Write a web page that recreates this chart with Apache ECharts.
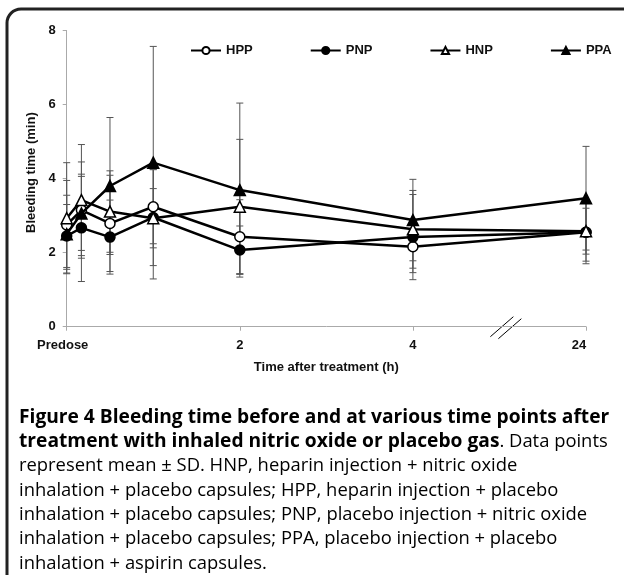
<!DOCTYPE html>
<html><head><meta charset="utf-8">
<script src="https://cdn.jsdelivr.net/npm/echarts@6/dist/echarts.min.js"></script>
<style>html,body{margin:0;padding:0;background:#fff}#c{width:624px;height:575px}</style>
</head><body><div id="c"></div>
<script>
// time points (h); 24 h is drawn after the axis break
const times = [0, 0.17, 0.5, 1, 2, 4, 24];
const xTickLabels = {0: 'Predose', 2: '2', 4: '4', 6: '24'};
const seriesNames = ['HPP', 'PNP', 'HNP', 'PPA'];
const hppMean = [2.75, 3.15, 2.79, 3.24, 2.43, 2.16, 2.55];
const hppSD   = [1.2, 1.3, 1.3, 1.0, 1.0, 0.7, 0.78];
const pnpMean = [2.45, 2.67, 2.42, 2.95, 2.07, 2.42, 2.55];
const pnpSD   = [0.85, 1.45, 1.0, 1.3, 0.65, 1.15, 0.85];
const hnpMean = [2.93, 3.42, 3.11, 2.93, 3.24, 2.63, 2.58];
const hnpSD   = [1.5, 1.5, 1.1, 0.8, 1.82, 1.05, 0.62];
const ppaMean = [2.5, 3.06, 3.8, 4.43, 3.69, 2.88, 3.47];
const ppaSD   = [1.05, 1.0, 1.85, 3.14, 2.35, 1.1, 1.4];

const axisPos = t => (t > 4 ? 6 : t);
const means = [hppMean, pnpMean, hnpMean, ppaMean];
const sds = [hppSD, pnpSD, hnpSD, ppaSD];
const symbols = ['circle', 'circle', 'triangle', 'triangle'];
const fills = ['#fff', '#000', '#fff', '#000'];
const sizes = [10, 10, 11, 11];
const FONT = 'Liberation Sans, Arial';

const chart = echarts.init(document.getElementById('c'), null, {renderer: 'canvas'});
const series = [];
seriesNames.forEach((n, i) => {
  series.push({
    type: 'custom', name: n + '_err', silent: true, z: 1,
    data: times.map((t, j) => [axisPos(t), means[i][j] - sds[i][j], means[i][j] + sds[i][j]]),
    renderItem: (params, api) => {
      const lo = api.coord([api.value(0), api.value(1)]);
      const hi = api.coord([api.value(0), api.value(2)]);
      const w = 3.5;
      const st = {stroke: '#555', lineWidth: 1};
      return {type: 'group', children: [
        {type: 'line', shape: {x1: lo[0], y1: lo[1], x2: hi[0], y2: hi[1]}, style: st},
        {type: 'line', shape: {x1: lo[0]-w, y1: lo[1], x2: lo[0]+w, y2: lo[1]}, style: st},
        {type: 'line', shape: {x1: hi[0]-w, y1: hi[1], x2: hi[0]+w, y2: hi[1]}, style: st}
      ]};
    }
  });
});
seriesNames.forEach((n, i) => {
  series.push({
    type: 'line', name: n, z: 3 + i,
    data: times.map((t, j) => [axisPos(t), means[i][j]]),
    symbol: symbols[i], symbolSize: sizes[i], showAllSymbol: true,
    lineStyle: {color: '#000', width: 2.5},
    itemStyle: {color: fills[i], borderColor: '#000', borderWidth: 1.5},
    emphasis: {disabled: true}
  });
});

const caption =
  '{b|Figure 4 Bleeding time before and at various time points after}\n' +
  '{b|treatment with inhaled nitric oxide or placebo gas}{r|. Data points}\n' +
  '{r|represent mean \u00b1 SD. HNP, heparin injection + nitric oxide}\n' +
  '{r|inhalation + placebo capsules; HPP, heparin injection + placebo}\n' +
  '{r|inhalation + placebo capsules; PNP, placebo injection + nitric oxide}\n' +
  '{r|inhalation + placebo capsules; PPA, placebo injection + placebo}\n' +
  '{r|inhalation + aspirin capsules.}';

const txt = {fontFamily: FONT, fontWeight: 'bold', fontSize: 13, color: '#111'};

chart.setOption({
  animation: false,
  grid: {left: 66.7, right: 38, top: 30.5, bottom: 248.3, containLabel: false},
  legend: {
    data: seriesNames, left: 185, top: 39, itemWidth: 30, itemHeight: 9, itemGap: 57,
    textStyle: txt, selectedMode: false
  },
  xAxis: {
    type: 'value', min: 0, max: 6, interval: 2,
    name: 'Time after treatment (h)', nameLocation: 'middle', nameGap: 34,
    nameTextStyle: txt,
    axisLine: {lineStyle: {color: '#aaa', width: 1}},
    axisTick: {show: true, length: 4, lineStyle: {color: '#aaa'}},
    splitLine: {show: false},
    axisLabel: Object.assign({margin: 12}, txt, {
      formatter: v => {
        if (v === 0) return '{p|' + xTickLabels[v] + '}';
        if (v === 6) return '{q|' + xTickLabels[v] + '}';
        return xTickLabels[v] || '';
      },
      rich: {
        p: Object.assign({padding: [0, 8, 0, 0]}, txt),
        q: Object.assign({padding: [0, 14, 0, 0]}, txt)
      }
    })
  },
  yAxis: {
    type: 'value', min: 0, max: 8, interval: 2,
    name: 'Bleeding time (min)', nameLocation: 'middle', nameGap: 27,
    nameTextStyle: Object.assign({padding: [0, 0, 0, 12]}, txt),
    axisLine: {show: true, lineStyle: {color: '#aaa', width: 1}},
    axisTick: {show: true, length: 4, lineStyle: {color: '#aaa'}},
    splitLine: {show: false},
    axisLabel: Object.assign({margin: 11}, txt)
  },
  series: series
});

// axis break marks
const p = chart.convertToPixel({gridIndex: 0}, [5.08, 0]);
chart.setOption({graphic: [
  {type: 'rect', shape: {x: 7, y: 9, width: 630, height: 620, r: 14}, style: {fill: null, stroke: '#222', lineWidth: 3}, silent: true, z: 0},
  {type: 'text', left: 19, top: 405, style: {text: caption, lineHeight: 24.4,
    rich: {b: {fontFamily: 'Open Sans', fontWeight: 'bold', fontSize: 19.2, color: '#1a1a1a', lineHeight: 24.4},
           r: {fontFamily: 'Open Sans', fontSize: 18.4, color: '#4a4a4a', lineHeight: 24.4}}}},
  {type: 'line', shape: {x1: p[0]-16, y1: p[1]+10, x2: p[0]+7, y2: p[1]-10}, style: {stroke: '#000', lineWidth: 1}},
  {type: 'line', shape: {x1: p[0]-8, y1: p[1]+12, x2: p[0]+15, y2: p[1]-8}, style: {stroke: '#000', lineWidth: 1}}
]});
</script></body></html>
